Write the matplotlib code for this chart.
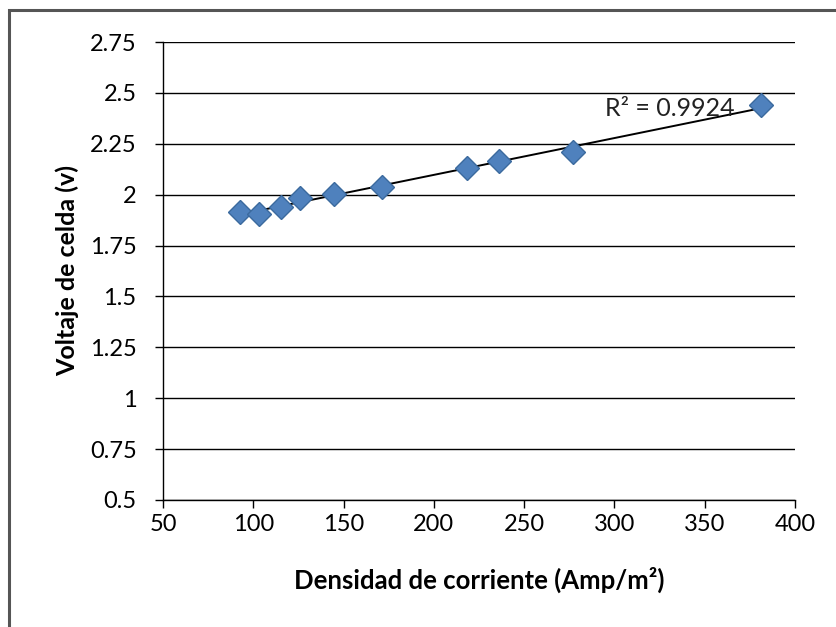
import numpy as np
import matplotlib
matplotlib.use('Agg')
import matplotlib.pyplot as plt
from matplotlib.patches import Rectangle

plt.rcParams['font.family'] = ['Lato', 'DejaVu Sans']

# datos
densidad = [92.4, 102.9, 115.3, 125.6, 144.5, 171.2, 218.2, 236.0, 277.3, 381.0]
voltaje = [1.913, 1.907, 1.938, 1.984, 2.003, 2.036, 2.131, 2.163, 2.212, 2.44]
r2_texto = 'R² = 0.9924'

y_ticks = [0.5, 0.75, 1, 1.25, 1.5, 1.75, 2, 2.25, 2.5, 2.75]
y_labels = ['0.5', '0.75', '1', '1.25', '1.5', '1.75', '2', '2.25', '2.5', '2.75']
x_ticks = [50, 100, 150, 200, 250, 300, 350, 400]

fig = plt.figure(figsize=(8.36, 6.27), dpi=100)
ax = fig.add_axes([0.195, 0.2026, 0.756, 0.7304])

# marco exterior
fig.patches.append(Rectangle((0.0105, -0.05), 1.1, 1.034, transform=fig.transFigure,
                             fill=False, edgecolor='#555555', linewidth=2.2))

for y in y_ticks:
    ax.axhline(y, color='black', linewidth=1.0, zorder=1)

# linea de tendencia
coef = np.polyfit(densidad, voltaje, 1)
xl = np.array([min(densidad), max(densidad)])
ax.plot(xl, np.polyval(coef, xl), color='black', linewidth=1.4, zorder=2)

ax.plot(densidad, voltaje, linestyle='none', marker='D', markersize=12,
        markerfacecolor='#4F81BD', markeredgecolor='#3B6A9E', markeredgewidth=1.0, zorder=3)

ax.text(294.5, 2.425, r2_texto, fontsize=18, ha='left', va='center', color='#222222', zorder=4)

ax.set_xlim(50, 400)
ax.set_ylim(0.5, 2.75)
ax.set_xticks(x_ticks)
ax.set_yticks(y_ticks)
ax.set_yticklabels(y_labels)
ax.tick_params(axis='both', direction='out', length=6, width=1, labelsize=17, colors='black')
ax.tick_params(axis='y', pad=13)
ax.tick_params(axis='x', pad=4)
for s in ['top', 'right']:
    ax.spines[s].set_visible(False)
for s in ['left', 'bottom']:
    ax.spines[s].set_linewidth(1.0)

ax.set_ylabel('Voltaje de celda (v)', fontsize=18, fontweight='bold', labelpad=8)
ax.set_xlabel('Densidad de corriente (Amp/m²)', fontsize=18.5, fontweight='bold', labelpad=23)

fig.savefig('out.png', dpi=100)
